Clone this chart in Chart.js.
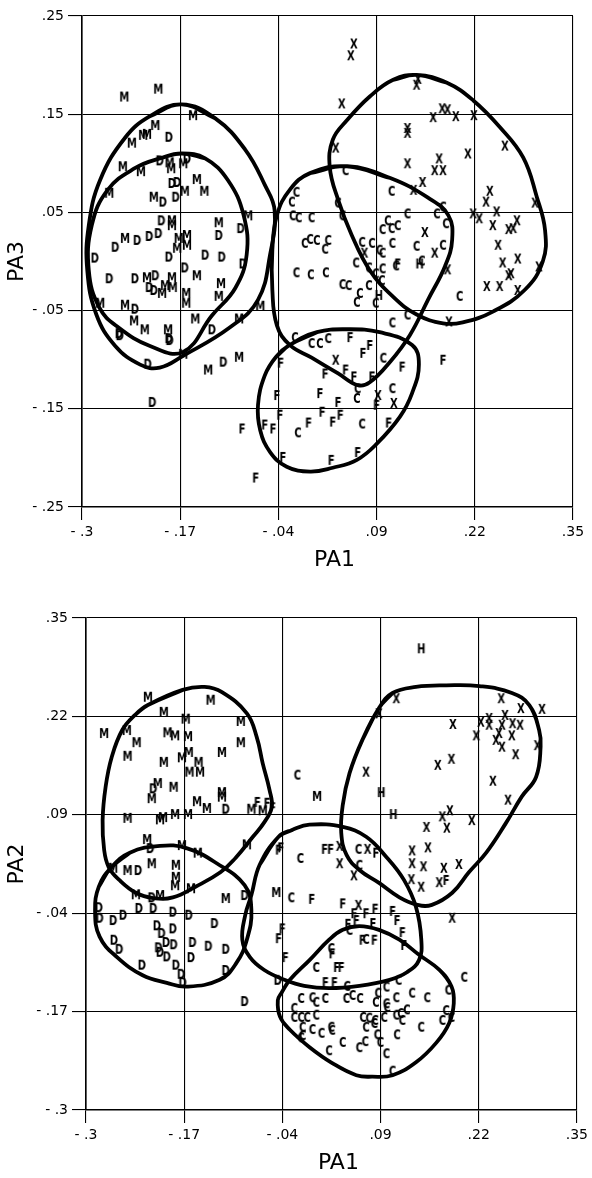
<!DOCTYPE html>
<html>
<head>
<meta charset="utf-8">
<script src="https://cdn.jsdelivr.net/npm/chart.js@4"></script>
<style>
  body { margin: 0; background: #fff; width: 592px; height: 1178px; position: relative; overflow: hidden; }
  canvas { position: absolute; left: 0; }
  #top { top: 0; }
  #bottom { top: 590px; }
</style>
</head>
<body>
<canvas id="top" width="592" height="590"></canvas>
<canvas id="bottom" width="592" height="588"></canvas>
<script>
// TICKS

const xTicks = [-0.3, -0.17, -0.04, 0.09, 0.22, 0.35];
const xTickLabels = ["- .3", "- .17", "- .04", ".09", ".22", ".35"];
const topYTicks = [-0.25, -0.15, -0.05, 0.05, 0.15, 0.25];
const topYTickLabels = ["- .25", "- .15", "- .05", ".05", ".15", ".25"];
const botYTicks = [-0.3, -0.17, -0.04, 0.09, 0.22, 0.35];
const botYTickLabels = ["- .3", "- .17", "- .04", ".09", ".22", ".35"];

// TOP PANEL (PA1 x PA3) POINTS

const topM = [[-0.244,0.168],[-0.199,0.176],[-0.153,0.149],[-0.234,0.121],[-0.219,0.129],[-0.214,0.130],[-0.203,0.139],[-0.246,0.097],[-0.222,0.092],[-0.182,0.095],[-0.166,0.100],[-0.264,0.070],[-0.164,0.072],[-0.148,0.084],[-0.138,0.072],[-0.205,0.066],[-0.080,0.047],[-0.181,0.042],[-0.181,0.037],[-0.119,0.040],[-0.243,0.024],[-0.172,0.024],[-0.161,0.027],[-0.174,0.014],[-0.161,0.017],[-0.148,-0.014],[-0.214,-0.016],[-0.194,-0.032],[-0.190,-0.024],[-0.181,-0.016],[-0.180,-0.026],[-0.116,-0.022],[-0.119,-0.035],[-0.162,-0.032],[-0.162,-0.042],[-0.276,-0.042],[-0.243,-0.044],[-0.231,-0.060],[-0.150,-0.058],[-0.092,-0.058],[-0.064,-0.045],[-0.217,-0.069],[-0.186,-0.069],[-0.133,-0.110],[-0.092,-0.097],[-0.166,-0.094],[-0.184,0.101]];
const topD = [[-0.185,0.127],[-0.161,0.105],[-0.181,0.080],[-0.174,0.081],[-0.193,0.061],[-0.176,0.066],[-0.195,0.042],[-0.119,0.027],[-0.090,0.034],[-0.256,0.015],[-0.227,0.022],[-0.211,0.026],[-0.199,0.029],[-0.185,0.005],[-0.137,0.007],[-0.115,0.005],[-0.283,0.004],[-0.087,-0.002],[-0.164,-0.006],[-0.264,-0.017],[-0.230,-0.017],[-0.203,-0.014],[-0.211,-0.026],[-0.205,-0.029],[-0.230,-0.048],[-0.251,-0.073],[-0.128,-0.069],[-0.185,-0.078],[-0.250,-0.075],[-0.184,-0.080],[-0.213,-0.104],[-0.113,-0.102],[-0.207,-0.143],[-0.197,0.103]];
const topC = [[0.049,0.093],[0.110,0.072],[0.131,0.049],[0.170,0.049],[0.178,0.056],[0.182,0.039],[0.178,0.017],[0.143,0.016],[0.111,0.019],[0.105,0.042],[0.098,0.033],[0.110,0.034],[0.118,0.037],[0.071,0.020],[0.084,0.019],[0.094,0.012],[0.098,0.009],[0.063,-0.001],[0.080,-0.006],[0.098,-0.007],[0.089,-0.012],[0.097,-0.019],[0.080,-0.024],[0.068,-0.032],[0.064,-0.041],[0.089,-0.042],[-0.016,-0.011],[0.003,-0.013],[0.023,-0.011],[0.045,-0.023],[0.053,-0.024],[-0.005,0.019],[0.002,0.023],[0.011,0.022],[0.026,0.022],[0.022,0.013],[-0.021,0.047],[-0.013,0.045],[0.004,0.045],[-0.022,0.061],[-0.016,0.071],[0.039,0.060],[0.045,0.047],[0.116,-0.004],[0.150,0.001],[0.200,-0.035],[0.111,-0.062],[0.131,-0.054],[-0.018,-0.077],[0.004,-0.083],[0.015,-0.083],[0.026,-0.078],[0.099,-0.098],[0.065,-0.129],[0.064,-0.139],[0.111,-0.129],[-0.014,-0.174],[0.071,-0.165]];
const topF = [[0.055,-0.077],[0.081,-0.085],[0.072,-0.093],[0.178,-0.100],[0.124,-0.107],[0.049,-0.110],[0.060,-0.117],[0.084,-0.117],[0.022,-0.114],[0.015,-0.134],[0.039,-0.143],[0.090,-0.146],[-0.042,-0.136],[-0.038,-0.156],[-0.058,-0.166],[-0.047,-0.170],[0.000,-0.164],[0.018,-0.153],[0.032,-0.163],[0.042,-0.156],[0.106,-0.164],[-0.034,-0.199],[0.030,-0.202],[0.065,-0.194],[-0.037,-0.103],[-0.088,-0.170],[-0.070,-0.220],[0.118,-0.002]];
const topX = [[0.060,0.222],[0.056,0.210],[0.044,0.161],[0.143,0.180],[0.145,0.186],[0.165,0.147],[0.177,0.156],[0.184,0.155],[0.195,0.148],[0.219,0.149],[0.131,0.136],[0.131,0.131],[0.211,0.110],[0.260,0.118],[0.036,0.116],[0.131,0.100],[0.173,0.105],[0.167,0.093],[0.178,0.093],[0.151,0.081],[0.139,0.073],[0.240,0.072],[0.235,0.061],[0.249,0.051],[0.218,0.049],[0.226,0.044],[0.300,0.060],[0.244,0.037],[0.276,0.042],[0.271,0.034],[0.265,0.033],[0.154,0.030],[0.167,0.009],[0.184,-0.008],[0.251,0.017],[0.257,-0.001],[0.277,0.003],[0.268,-0.012],[0.305,-0.005],[0.074,0.009],[0.236,-0.025],[0.253,-0.025],[0.265,-0.014],[0.277,-0.029],[0.186,-0.061],[0.036,-0.100],[0.092,-0.136],[0.113,-0.144]];
const topH = [[0.147,-0.002],[0.093,-0.034]];

// TOP PANEL OUTLINES

const topOutlineOuter = [[-0.168,0.160],[-0.124,0.146],[-0.084,0.114],[-0.058,0.078],[-0.045,0.052],[-0.051,0.007],[-0.067,-0.039],[-0.104,-0.067],[-0.166,-0.096],[-0.197,-0.108],[-0.223,-0.105],[-0.256,-0.086],[-0.281,-0.054],[-0.293,-0.009],[-0.291,0.037],[-0.276,0.083],[-0.243,0.126],[-0.210,0.148]];
const topOutlineInner = [[-0.168,0.110],[-0.137,0.105],[-0.107,0.083],[-0.086,0.047],[-0.082,0.007],[-0.097,-0.027],[-0.128,-0.055],[-0.166,-0.092],[-0.210,-0.086],[-0.252,-0.067],[-0.277,-0.047],[-0.291,-0.009],[-0.287,0.037],[-0.266,0.073],[-0.230,0.095],[-0.197,0.105]];
const topOutlineC = [[0.051,0.097],[0.108,0.085],[0.158,0.065],[0.185,0.047],[0.190,0.022],[0.181,-0.004],[0.158,-0.039],[0.134,-0.075],[0.108,-0.102],[0.081,-0.123],[0.065,-0.126],[0.039,-0.114],[0.004,-0.098],[-0.025,-0.085],[-0.042,-0.065],[-0.048,-0.029],[-0.048,0.012],[-0.042,0.047],[-0.025,0.073],[0.002,0.090]];
const topOutlineX = [[0.143,0.190],[0.183,0.182],[0.218,0.164],[0.253,0.137],[0.284,0.106],[0.302,0.066],[0.313,0.032],[0.310,0.000],[0.286,-0.029],[0.244,-0.051],[0.204,-0.062],[0.178,-0.063],[0.143,-0.054],[0.112,-0.036],[0.081,-0.009],[0.057,0.027],[0.039,0.063],[0.028,0.096],[0.032,0.124],[0.051,0.144],[0.081,0.168],[0.112,0.185]];
const topOutlineF = [[-0.025,-0.085],[0.011,-0.072],[0.051,-0.069],[0.094,-0.072],[0.137,-0.085],[0.146,-0.105],[0.137,-0.134],[0.121,-0.158],[0.091,-0.185],[0.064,-0.202],[0.032,-0.210],[0.002,-0.214],[-0.029,-0.209],[-0.051,-0.194],[-0.064,-0.172],[-0.067,-0.146],[-0.058,-0.116],[-0.043,-0.097]];

// BOTTOM PANEL (PA1 x PA2) POINTS

const botM = [[-0.218,0.246],[-0.135,0.242],[-0.197,0.226],[-0.168,0.217],[-0.095,0.214],[-0.276,0.198],[-0.246,0.202],[-0.233,0.186],[-0.192,0.199],[-0.182,0.195],[-0.165,0.194],[-0.095,0.186],[-0.245,0.168],[-0.197,0.160],[-0.173,0.166],[-0.164,0.173],[-0.151,0.160],[-0.163,0.147],[-0.149,0.147],[-0.120,0.173],[-0.205,0.132],[-0.213,0.112],[-0.184,0.127],[-0.153,0.108],[-0.140,0.099],[-0.120,0.120],[-0.120,0.114],[-0.081,0.098],[-0.066,0.096],[-0.245,0.086],[-0.202,0.084],[-0.198,0.087],[-0.182,0.091],[-0.165,0.091],[-0.219,0.058],[-0.173,0.050],[-0.152,0.040],[-0.087,0.051],[-0.245,0.017],[-0.213,0.026],[-0.181,0.024],[-0.181,0.008],[-0.182,-0.003],[-0.264,0.020],[-0.234,-0.015],[-0.202,-0.016],[-0.161,-0.007],[-0.115,-0.020],[-0.048,-0.012],[0.006,0.115]];
const botD = [[-0.211,0.125],[-0.115,0.098],[-0.231,0.017],[-0.215,0.046],[-0.213,-0.019],[-0.090,-0.016],[-0.283,-0.032],[-0.230,-0.033],[-0.211,-0.033],[-0.185,-0.038],[-0.164,-0.042],[-0.282,-0.046],[-0.264,-0.049],[-0.251,-0.042],[-0.206,-0.056],[-0.185,-0.060],[-0.130,-0.053],[-0.200,-0.066],[-0.194,-0.078],[-0.184,-0.081],[-0.263,-0.075],[-0.256,-0.087],[-0.204,-0.085],[-0.202,-0.091],[-0.193,-0.097],[-0.159,-0.078],[-0.138,-0.083],[-0.115,-0.087],[-0.161,-0.098],[-0.226,-0.108],[-0.181,-0.108],[-0.174,-0.120],[-0.172,-0.131],[-0.115,-0.115],[-0.046,-0.128],[-0.090,-0.156]];
const botC = [[-0.020,0.143],[-0.016,0.033],[0.061,0.045],[0.062,0.024],[-0.028,-0.019],[0.049,-0.062],[0.071,-0.074],[0.025,-0.086],[0.005,-0.111],[0.046,-0.136],[-0.015,-0.152],[0.000,-0.151],[0.005,-0.157],[0.017,-0.152],[0.045,-0.152],[0.053,-0.148],[0.063,-0.152],[0.087,-0.145],[0.098,-0.137],[0.111,-0.151],[0.114,-0.128],[0.132,-0.145],[0.152,-0.151],[0.180,-0.141],[0.201,-0.124],[0.084,-0.157],[0.098,-0.159],[0.099,-0.164],[-0.024,-0.165],[-0.024,-0.177],[-0.015,-0.177],[-0.007,-0.177],[0.005,-0.174],[0.067,-0.177],[0.075,-0.178],[0.083,-0.181],[0.095,-0.177],[0.111,-0.174],[0.117,-0.172],[0.125,-0.167],[0.119,-0.181],[0.177,-0.168],[0.172,-0.181],[0.184,-0.177],[-0.013,-0.190],[0.000,-0.193],[0.012,-0.198],[0.025,-0.190],[0.026,-0.194],[0.071,-0.190],[0.082,-0.185],[0.144,-0.190],[0.112,-0.200],[0.086,-0.200],[-0.013,-0.201],[0.022,-0.221],[0.040,-0.210],[0.062,-0.217],[0.070,-0.209],[0.090,-0.210],[0.098,-0.225],[0.106,-0.248],[-0.015,-0.204]];
const botF = [[-0.073,0.107],[-0.060,0.106],[-0.053,0.100],[-0.042,0.047],[-0.045,0.044],[-0.040,-0.060],[-0.045,-0.073],[-0.036,-0.098],[-0.001,-0.021],[0.040,-0.027],[0.055,-0.040],[0.071,-0.040],[0.083,-0.034],[0.106,-0.037],[0.112,-0.049],[0.119,-0.065],[0.121,-0.082],[0.058,-0.049],[0.047,-0.054],[0.080,-0.053],[0.066,-0.075],[0.082,-0.075],[0.026,-0.093],[0.032,-0.111],[0.038,-0.111],[0.017,-0.131],[0.029,-0.131],[0.016,0.045],[0.024,0.045],[0.084,0.040],[0.177,0.004]];
const botX = [[0.111,0.244],[0.250,0.244],[0.276,0.231],[0.304,0.230],[0.088,0.224],[0.186,0.210],[0.217,0.195],[0.223,0.213],[0.234,0.218],[0.234,0.209],[0.255,0.222],[0.251,0.209],[0.265,0.211],[0.275,0.209],[0.247,0.198],[0.243,0.189],[0.251,0.180],[0.264,0.195],[0.269,0.170],[0.298,0.182],[0.166,0.156],[0.184,0.164],[0.239,0.135],[0.259,0.110],[0.071,0.147],[0.172,0.088],[0.182,0.096],[0.211,0.083],[0.151,0.074],[0.178,0.073],[0.153,0.047],[0.132,0.043],[0.132,0.026],[0.147,0.022],[0.174,0.020],[0.194,0.025],[0.131,0.005],[0.144,-0.005],[0.168,0.001],[0.036,0.049],[0.036,0.026],[0.055,0.010],[0.073,0.045],[0.061,-0.029],[0.185,-0.046]];
const botH = [[0.144,0.310],[0.091,0.120],[0.107,0.091]];

// BOTTOM PANEL OUTLINES

const botOutlineM = [[-0.218,0.235],[-0.172,0.255],[-0.143,0.259],[-0.120,0.252],[-0.087,0.224],[-0.074,0.193],[-0.066,0.158],[-0.057,0.123],[-0.054,0.100],[-0.064,0.080],[-0.079,0.061],[-0.102,0.033],[-0.122,0.014],[-0.155,-0.005],[-0.185,-0.019],[-0.211,-0.020],[-0.234,-0.013],[-0.256,0.004],[-0.270,0.021],[-0.276,0.044],[-0.278,0.083],[-0.274,0.127],[-0.266,0.166],[-0.252,0.202],[-0.235,0.222]];
const botOutlineD = [[-0.267,0.020],[-0.242,0.040],[-0.202,0.049],[-0.167,0.046],[-0.127,0.026],[-0.090,-0.003],[-0.081,-0.036],[-0.087,-0.075],[-0.101,-0.106],[-0.123,-0.128],[-0.167,-0.137],[-0.193,-0.132],[-0.225,-0.122],[-0.259,-0.098],[-0.282,-0.071],[-0.288,-0.036],[-0.283,-0.005]];
const botOutlineMid = [[-0.045,0.061],[-0.027,0.070],[-0.004,0.077],[0.040,0.074],[0.071,0.061],[0.098,0.034],[0.121,0.004],[0.137,-0.032],[0.144,-0.075],[0.141,-0.102],[0.125,-0.118],[0.102,-0.128],[0.062,-0.136],[0.022,-0.139],[-0.011,-0.136],[-0.037,-0.128],[-0.064,-0.115],[-0.083,-0.098],[-0.093,-0.075],[-0.089,-0.042],[-0.081,-0.016],[-0.070,0.024]];
const botOutlineX = [[0.088,0.231],[0.106,0.251],[0.137,0.259],[0.177,0.261],[0.221,0.260],[0.264,0.251],[0.287,0.235],[0.300,0.202],[0.302,0.180],[0.296,0.140],[0.277,0.114],[0.256,0.079],[0.230,0.040],[0.207,0.014],[0.185,-0.013],[0.158,-0.029],[0.139,-0.029],[0.115,-0.019],[0.088,0.000],[0.062,0.017],[0.045,0.037],[0.038,0.066],[0.040,0.103],[0.049,0.145],[0.066,0.189]];
const botOutlineC = [[-0.030,-0.128],[-0.004,-0.102],[0.022,-0.075],[0.040,-0.062],[0.062,-0.057],[0.088,-0.062],[0.115,-0.075],[0.141,-0.095],[0.168,-0.115],[0.184,-0.137],[0.187,-0.159],[0.181,-0.185],[0.164,-0.211],[0.137,-0.237],[0.106,-0.254],[0.079,-0.256],[0.058,-0.254],[0.026,-0.238],[-0.004,-0.217],[-0.030,-0.194],[-0.043,-0.177],[-0.046,-0.155],[-0.041,-0.145]];

// HELPERS

// letter glyph used as point marker
function letterImage(ch) {
  const c = document.createElement("canvas");
  c.width = 18;
  c.height = 18;
  const ctx = c.getContext("2d");
  ctx.fillStyle = "#000";
  ctx.font = "bold 14px 'DejaVu Sans'";
  ctx.textAlign = "center";
  ctx.textBaseline = "alphabetic";
  ctx.translate(9, 0);
  ctx.scale(0.72, 1);
  ctx.fillText(ch, 0, 14.1);
  return c;
}

function toPoints(pairs) {
  return pairs.map(p => ({ x: p[0], y: p[1] }));
}

// wrap the ring so the spline closes smoothly
function loopPoints(pairs) {
  const n = pairs.length;
  const ring = [pairs[n - 1], ...pairs, pairs[0], pairs[1]];
  return toPoints(ring);
}

function letterSet(ch, pairs) {
  return {
    data: toPoints(pairs),
    pointStyle: letterImage(ch),
    pointRadius: 6,
    showLine: false
  };
}

function outlineSet(pairs) {
  return {
    data: loopPoints(pairs),
    showLine: true,
    pointRadius: 0,
    borderColor: "#000",
    borderWidth: 3.8,
    tension: 0.42,
    fill: false
  };
}

function axisOptions(ticks, labels, title, isX, fitSize, titlePad, tickLen) {
  return {
    type: "linear",
    min: ticks[0],
    max: ticks[ticks.length - 1],
    afterBuildTicks: scale => { scale.ticks = ticks.map(v => ({ value: v })); },
    afterFit: scale => {
      if (isX) scale.height = fitSize;
      else scale.width = fitSize;
    },
    ticks: {
      autoSkip: false,
      maxRotation: 0,
      color: "#000",
      padding: 4,
      font: { family: "'DejaVu Sans'", size: 14 },
      callback: (value, index) => labels[index]
    },
    grid: {
      color: "#000",
      lineWidth: 1.1,
      tickLength: tickLen,
      tickColor: "#000"
    },
    border: { display: true, color: "#000", width: 1.6 },
    title: {
      display: true,
      text: title,
      color: "#000",
      font: { family: "'DejaVu Sans'", size: 22 },
      padding: titlePad
    }
  };
}

// CHARTS

function renderPanel(canvasId, sets, yTicks, yLabels, yTitle, padding, yWidth, xHeight, xTitlePad) {
  new Chart(document.getElementById(canvasId), {
    type: "scatter",
    data: { datasets: sets },
    options: {
      responsive: false,
      animation: false,
      layout: { padding: padding },
      plugins: { legend: { display: false }, tooltip: { enabled: false } },
      scales: {
        x: axisOptions(xTicks, xTickLabels, "  PA1", true, xHeight, xTitlePad, 13),
        y: axisOptions(yTicks, yLabels, yTitle, false, yWidth, { top: 4, bottom: 4 }, 14)
      }
    }
  });
}

renderPanel("top", [
  outlineSet(topOutlineOuter),
  outlineSet(topOutlineInner),
  outlineSet(topOutlineC),
  outlineSet(topOutlineX),
  outlineSet(topOutlineF),
  letterSet("M", topM),
  letterSet("D", topD),
  letterSet("C", topC),
  letterSet("F", topF),
  letterSet("X", topX),
  letterSet("H", topH)
], topYTicks, topYTickLabels, "PA3", { top: 16, right: 19, bottom: 0, left: 0 }, 82, 83, { top: 4, bottom: 17 });

renderPanel("bottom", [
  outlineSet(botOutlineM),
  outlineSet(botOutlineD),
  outlineSet(botOutlineMid),
  outlineSet(botOutlineX),
  outlineSet(botOutlineC),
  letterSet("M", botM),
  letterSet("D", botD),
  letterSet("C", botC),
  letterSet("F", botF),
  letterSet("X", botX),
  letterSet("H", botH)
], botYTicks, botYTickLabels, "PA2", { top: 28, right: 14, bottom: 0, left: 0 }, 86, 68, { top: 4, bottom: 2 });
</script>
</body>
</html>
